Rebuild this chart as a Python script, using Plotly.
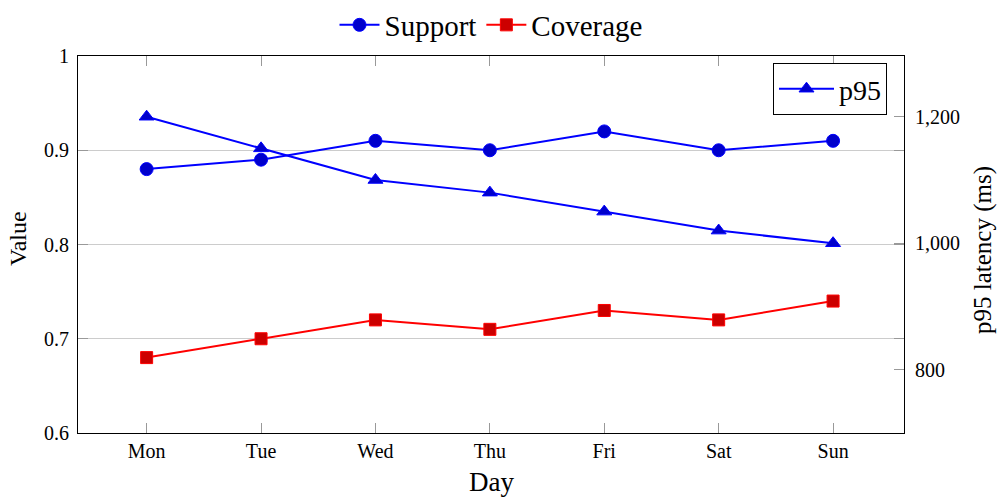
import plotly.graph_objects as go

days = ["Mon", "Tue", "Wed", "Thu", "Fri", "Sat", "Sun"]
support = [0.88, 0.89, 0.91, 0.90, 0.92, 0.90, 0.91]
coverage = [0.68, 0.70, 0.72, 0.71, 0.73, 0.72, 0.74]
p95 = [1200, 1150, 1100, 1080, 1050, 1020, 1000]

FONT = "Liberation Serif"
W, H = 998, 498
ML, MR, MT, MB = 78, 94, 56, 65
PW, PH = W - ML - MR, H - MT - MB

fig = go.Figure()

fig.add_trace(go.Scatter(
    x=days, y=support, name="Support", mode="lines+markers",
    line=dict(color="#0000ff", width=2),
    marker=dict(symbol="circle", size=13, color="#0000cc", line=dict(color="#0000ff", width=1)),
    legend="legend"))
fig.add_trace(go.Scatter(
    x=days, y=coverage, name="Coverage", mode="lines+markers",
    line=dict(color="#ff0000", width=2),
    marker=dict(symbol="square", size=12, color="#cc0000", line=dict(color="#ff0000", width=1)),
    legend="legend"))
fig.add_trace(go.Scatter(
    x=days, y=p95, name="p95", mode="lines+markers", yaxis="y2",
    line=dict(color="#0000ff", width=2),
    marker=dict(symbol="triangle-up", size=13, color="#0000cc", line=dict(color="#0000ff", width=1)),
    legend="legend2"))

fig.update_layout(
    width=W, height=H,
    margin=dict(l=ML, r=MR, t=MT, b=MB, autoexpand=False),
    paper_bgcolor="white", plot_bgcolor="white",
    font=dict(family=FONT, color="black", size=20),
    xaxis=dict(
        type="category", range=[-0.6, 6.62], automargin=False,
        showline=True, linecolor="black", linewidth=1.2, mirror="ticks",
        ticks="inside", ticklen=10, tickcolor="#999999", tickwidth=1,
        showgrid=False, tickfont=dict(size=20, family=FONT),
    ),
    yaxis=dict(
        range=[0.6, 1.0], dtick=0.1, tick0=0.6, automargin=False,
        showline=True, linecolor="black", linewidth=1.2, mirror="ticks",
        ticks="inside", ticklen=10, tickcolor="#999999", tickwidth=1,
        showgrid=True, gridcolor="#cccccc", gridwidth=1, zeroline=False,
        tickfont=dict(size=20, family=FONT), ticklabelstandoff=4,
    ),
    yaxis2=dict(
        overlaying="y", side="right", range=[700, 1296], automargin=False,
        tickvals=[800, 1000, 1200], tickformat=",",
        showline=True, linecolor="black", linewidth=1.2,
        ticks="inside", ticklen=10, tickcolor="#999999", tickwidth=1,
        showgrid=False, zeroline=False,
        tickfont=dict(size=20, family=FONT), ticklabelstandoff=6,
    ),
    legend=dict(
        orientation="h", x=0.5, xanchor="center",
        y=1 + (MT - 25) / PH, yanchor="middle",
        font=dict(size=29, family=FONT), bgcolor="rgba(0,0,0,0)",
        tracegroupgap=0, itemwidth=40,
    ),
    legend2=dict(
        x=(887 - ML) / PW, xanchor="right", y=1 - (63 - MT) / PH, yanchor="top",
        font=dict(size=28, family=FONT), bgcolor="white",
        bordercolor="black", borderwidth=1, itemwidth=55,
    ),
    annotations=[
        dict(text="Day", xref="paper", yref="paper", x=0.5, y=-(482 - (H - MB)) / PH,
             xanchor="center", yanchor="middle", showarrow=False, font=dict(size=27, family=FONT)),
        dict(text="Value", xref="paper", yref="paper", x=-(ML - 18) / PW, y=1 - (239 - MT) / PH,
             xanchor="center", yanchor="middle", textangle=-90, showarrow=False, font=dict(size=24, family=FONT)),
        dict(text="p95 latency (ms)", xref="paper", yref="paper", x=1 + (983 - (W - MR)) / PW,
             y=1 - (250 - MT) / PH,
             xanchor="center", yanchor="middle", textangle=-90, showarrow=False, font=dict(size=25, family=FONT)),
    ],
)

fig.write_html("out.html", config={"displayModeBar": False},
               post_script="document.body.style.margin='0px';")
